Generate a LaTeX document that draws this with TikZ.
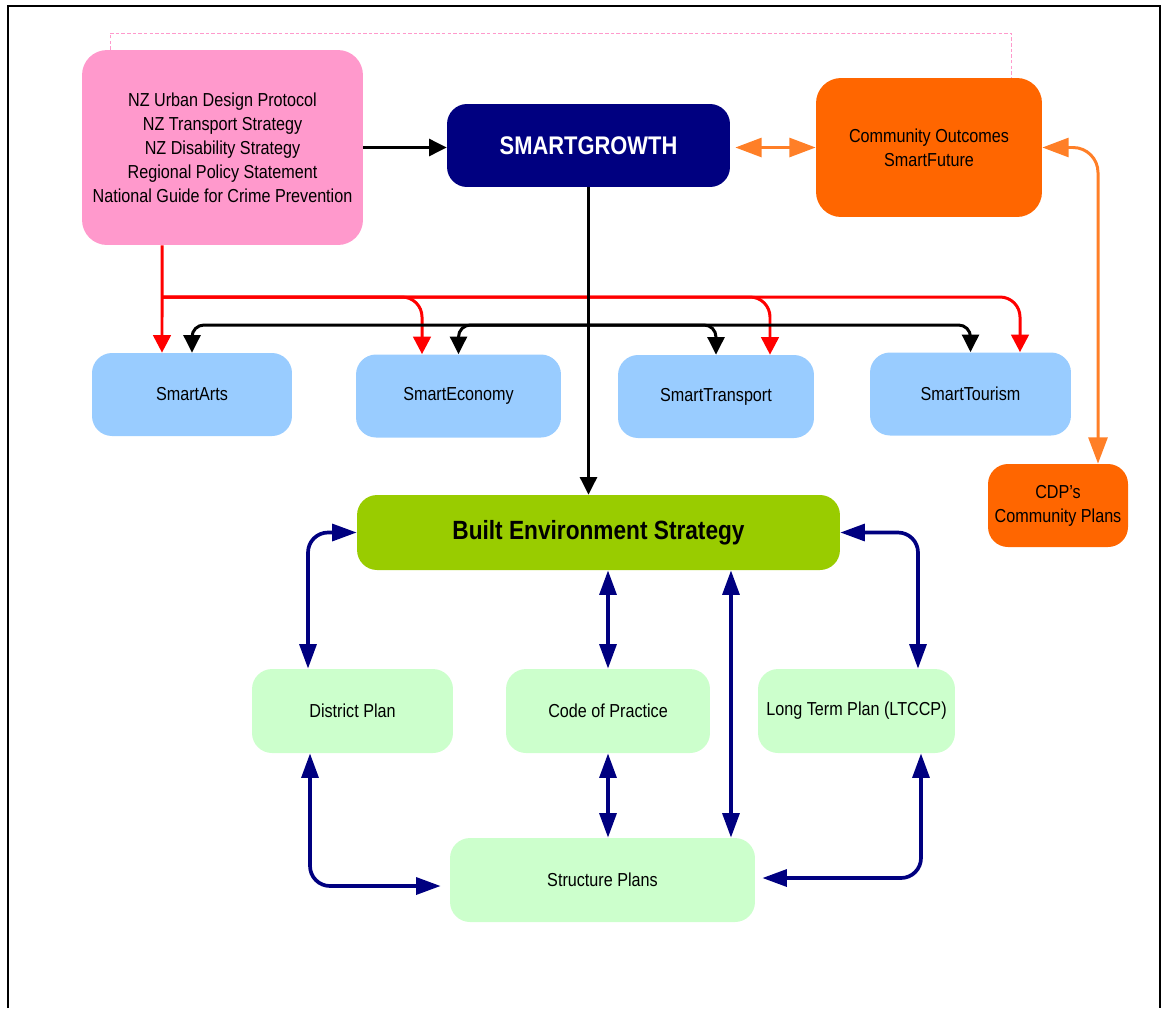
\documentclass[tikz,border=0pt]{standalone}
\usepackage{fontspec}
\setmainfont{Liberation Sans}[FakeStretch=0.86]
\usetikzlibrary{arrows.meta}
\definecolor{pinkbox}{HTML}{FF99CC}
\definecolor{navybox}{HTML}{000080}
\definecolor{orangebox}{HTML}{FF6600}
\definecolor{orangeline}{HTML}{FF7F27}
\definecolor{bluebox}{HTML}{99CCFF}
\definecolor{greenbox}{HTML}{99CC00}
\definecolor{mintbox}{HTML}{CCFFCC}
\definecolor{redline}{HTML}{FF0000}
\begin{document}
\begin{tikzpicture}[x=0.02cm, y=-0.02cm,
  box/.style = {rounded corners=0.4cm, inner sep=0pt, align=center,
    font=\fontsize{10.7}{13.6}\selectfont},
  smartbox/.style = {box, fill=bluebox, minimum height=1.66cm},
  planbox/.style = {box, fill=mintbox, minimum height=1.68cm},
  blacklink/.style = {black, line width=1.7pt, -{Triangle[length=10pt,width=9.6pt]}},
  redlink/.style = {redline, line width=1.7pt, -{Triangle[length=10pt,width=10pt]}},
  orangelink/.style = {orangeline, line width=1.7pt, {Triangle[length=15pt,width=10.8pt]}-{Triangle[length=15pt,width=10.8pt]}},
  navlink/.style = {navybox, line width=2.1pt, {Triangle[length=14pt,width=9.6pt]}-{Triangle[length=14pt,width=9.6pt]}}]
  \useasboundingbox (0,0) rectangle (1165,1008);
  \draw[line width=1.1pt] (8,1008) -- (8,6) -- (1160,6) -- (1160,1008);

  \node[box, fill=pinkbox, minimum width=5.62cm, minimum height=3.9cm, rounded corners=0.5cm] (policy) at (222.5,147.5)
    {NZ Urban Design Protocol\\NZ Transport Strategy\\NZ Disability Strategy\\Regional Policy Statement\\National Guide for Crime Prevention};
  \node[box, fill=navybox, text=white, font=\bfseries\fontsize{14.5}{17}\selectfont, minimum width=5.66cm, minimum height=1.66cm] (smartgrowth) at (588.5,145.5) {SMARTGROWTH};
  \node[box, fill=orangebox, minimum width=4.52cm, minimum height=2.78cm, rounded corners=0.5cm] (outcomes) at (929,147.5) {Community Outcomes\\SmartFuture};

  \node[smartbox, minimum width=4cm] (arts) at (192,394.5) {SmartArts};
  \node[smartbox, minimum width=4.1cm] (economy) at (458.5,396) {SmartEconomy};
  \node[smartbox, minimum width=3.92cm] (transport) at (716,396.5) {SmartTransport};
  \node[smartbox, minimum width=4.02cm] (tourism) at (970.5,394) {SmartTourism};
  \node[box, fill=orangebox, minimum width=2.8cm, minimum height=1.66cm] (cdp) at (1058,505.5) {CDP’s\\Community Plans};

  \node[box, fill=greenbox, font=\bfseries\fontsize{15}{18}\selectfont, minimum width=9.66cm, minimum height=1.5cm] (strategy) at (598.5,532.5) {Built Environment Strategy};
  \node[planbox, minimum width=4.02cm] (district) at (352.5,711) {District Plan};
  \node[planbox, minimum width=4.08cm] (practice) at (608,711) {Code of Practice};
  \node[planbox, minimum width=3.94cm] (ltccp) at (856.5,711) {Long Term Plan (LTCCP)};
  \node[planbox, minimum width=6.1cm] (structure) at (602.5,880) {Structure Plans};

  \coordinate (dashtop) at (560,33);
  \coordinate (fork) at (162,297);
  \coordinate (bus) at (588.5,325);
  \coordinate (riser) at ([xshift=2.57cm]structure.north);

  \draw[pinkbox, line width=0.4pt, dash pattern=on 2pt off 1.2pt] ([xshift=-2.25cm]policy.north) |- (dashtop) -| ([xshift=1.64cm]outcomes.north);
  \draw[blacklink] (policy.east) -- (policy.east -| smartgrowth.west);
  \draw[orangelink, shorten <=0.1cm] (outcomes.west -| smartgrowth.east) -- (outcomes.west);
  \draw[orangelink, rounded corners=0.5cm] (outcomes.east) -| ([xshift=0.8cm]cdp.north);

  \draw[redlink] ([xshift=-1.21cm]policy.south) -- (fork |- arts.north);
  \draw[redlink, rounded corners=0.4cm] (fork) -| ([xshift=-0.73cm]economy.north);
  \draw[redlink, rounded corners=0.4cm] (fork) -| ([xshift=1.08cm]transport.north);
  \draw[redlink, rounded corners=0.4cm] (fork) -| ([xshift=0.99cm]tourism.north);

  \draw[blacklink, rounded corners=0.24cm] (bus) -| (arts.north);
  \draw[blacklink, rounded corners=0.24cm] (bus) -| (economy.north);
  \draw[blacklink, rounded corners=0.24cm] (bus) -| (transport.north);
  \draw[blacklink, rounded corners=0.24cm] (bus) -| (tourism.north);
  \draw[blacklink] (smartgrowth.south) -- (smartgrowth.south |- strategy.north);

  \draw[navlink, rounded corners=0.4cm] (strategy.west) -| ([xshift=-0.89cm]district.north);
  \draw[navlink] (practice.north |- strategy.south) -- (practice.north);
  \draw[navlink] (riser |- strategy.south) -- (riser);
  \draw[navlink, rounded corners=0.4cm] (strategy.east) -| ([xshift=1.23cm]ltccp.north);
  \draw[navlink, rounded corners=0.4cm] ([xshift=-0.85cm]district.south) |- ([xshift=-0.18cm,yshift=-0.12cm]structure.west);
  \draw[navlink] (practice.south) -- (practice.south |- structure.north);
  \draw[navlink, rounded corners=0.4cm] ([xshift=1.29cm]ltccp.south) |- ([xshift=0.14cm,yshift=0.04cm]structure.east);
\end{tikzpicture}
\end{document}
